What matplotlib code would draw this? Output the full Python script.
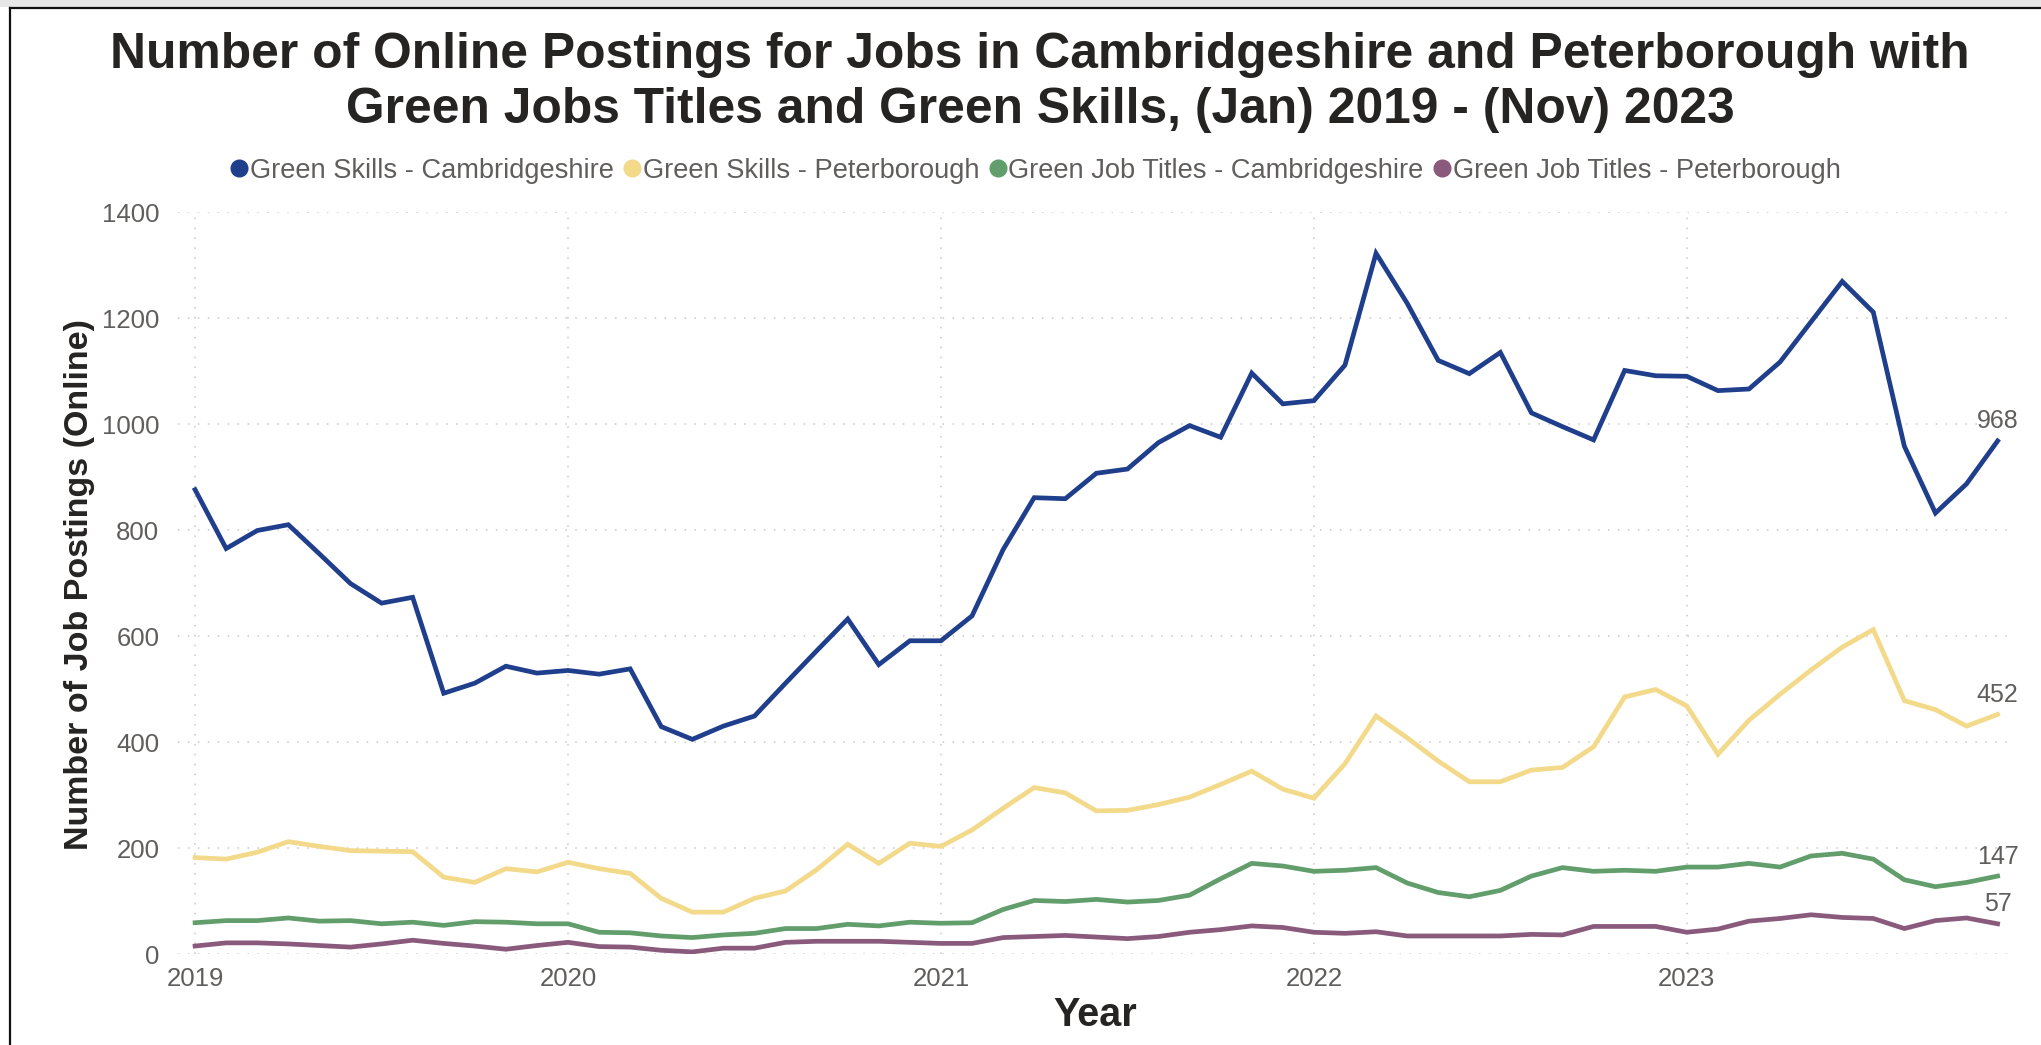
import matplotlib
matplotlib.use('Agg')
import matplotlib.pyplot as plt
from matplotlib.lines import Line2D
from matplotlib.patches import Rectangle

# monthly postings, Jan 2019 .. Nov 2023
years = ['2019', '2020', '2021', '2022', '2023']

skills_cambs = [876, 765, 799, 810, 755, 699, 662, 673, 492, 511, 543, 530,
                535, 528, 538, 429, 405, 430, 449, 511, 572, 632, 546, 591,
                591, 638, 763, 861, 859, 907, 915, 965, 997, 975, 1096, 1038,
                1044, 1111, 1322, 1228, 1120, 1095, 1135, 1021, 995, 970, 1101, 1091,
                1090, 1063, 1066, 1117, 1193, 1269, 1211, 958, 832, 887, 968]

skills_pboro = [182, 179, 192, 212, 203, 195, 194, 193, 145, 135, 161, 155,
                173, 161, 152, 105, 79, 79, 105, 119, 159, 207, 171, 209,
                203, 234, 275, 314, 304, 270, 271, 282, 296, 320, 345, 311,
                294, 359, 449, 408, 364, 325, 325, 347, 352, 391, 485, 499,
                468, 377, 441, 490, 536, 579, 612, 478, 461, 430, 452]

titles_cambs = [59, 63, 63, 68, 62, 63, 57, 60, 54, 61, 60, 57,
                57, 41, 40, 34, 31, 36, 39, 48, 48, 56, 53, 60,
                58, 59, 84, 101, 99, 103, 98, 101, 111, 142, 171, 166,
                156, 158, 163, 134, 116, 108, 120, 147, 163, 156, 158, 156,
                164, 164, 171, 164, 185, 190, 179, 140, 127, 135, 147]

titles_pboro = [15, 21, 21, 19, 16, 13, 19, 26, 20, 15, 9, 16,
                22, 14, 13, 7, 4, 11, 11, 22, 24, 24, 24, 22,
                20, 20, 31, 33, 35, 32, 29, 33, 41, 46, 53, 50,
                41, 39, 42, 34, 34, 34, 34, 37, 36, 52, 52, 52,
                41, 47, 62, 67, 74, 69, 67, 48, 63, 68, 57]

series = [
    ('Green Skills - Cambridgeshire', skills_cambs, '#1F3E8C'),
    ('Green Skills - Peterborough', skills_pboro, '#F3D98A'),
    ('Green Job Titles - Cambridgeshire', titles_cambs, '#629D6C'),
    ('Green Job Titles - Peterborough', titles_pboro, '#8A5A7C'),
]

plt.rcParams['font.family'] = ['Liberation Sans', 'DejaVu Sans']
grey = '#605E5C'
dark = '#252423'

W, H = 2041, 1045
fig = plt.figure(figsize=(W / 100, H / 100), dpi=100)

# screenshot frame: grey strip on top, thin black border top and left
fig.patches.append(Rectangle((0, 1 - 7 / H), 1, 7 / H, transform=fig.transFigure,
                             facecolor='#E6E6E6', edgecolor='none'))
fig.lines.append(Line2D([10 / W, 1], [1 - 8 / H, 1 - 8 / H], transform=fig.transFigure,
                        color='#111111', linewidth=1.6))
fig.lines.append(Line2D([10 / W, 10 / W], [0, 1 - 8 / H], transform=fig.transFigure,
                        color='#111111', linewidth=1.6))

ax = fig.add_axes([178 / W, 1 - 954 / H, (2015 - 178) / W, (954 - 212) / H])

months = list(range(len(skills_cambs)))
handles = []
for name, vals, col in series:
    ax.plot(months, vals, color=col, linewidth=3.4, solid_joinstyle='miter', zorder=3)
    handles.append(Line2D([], [], linestyle='none', marker='o', markersize=12,
                          markerfacecolor=col, markeredgecolor=col, label=name))
    ax.annotate(str(vals[-1]), (months[-1], vals[-1]), xytext=(0, 9),
                textcoords='offset points', ha='center', va='baseline',
                fontsize=18, color=grey)

ax.set_xlim(-0.55, 58.56)
ax.set_ylim(0, 1400)
ax.set_yticks(range(0, 1401, 200))
ax.set_xticks([0, 12, 24, 36, 48])
ax.set_xticklabels(years)
ax.tick_params(axis='both', length=0, labelsize=18.5, labelcolor=grey)
ax.tick_params(axis='y', pad=13.5)
ax.tick_params(axis='x', pad=9)
for s in ax.spines.values():
    s.set_visible(False)
ax.grid(True, color='#C8C8C8', linewidth=1.1, linestyle=(0, (1, 5.5)), zorder=0)
ax.set_axisbelow(True)

fig.text(80 / W, 1 - 584 / H, 'Number of Job Postings (Online)', rotation=90,
         ha='center', va='center', fontsize=24.5, fontweight='bold', color=dark)
fig.text(1095 / W, 1 - 1015 / H, 'Year', ha='center', va='center',
         fontsize=28.5, fontweight='bold', color=dark)

fig.text(1040 / W, 1 - 68 / H,
         'Number of Online Postings for Jobs in Cambridgeshire and Peterborough with',
         ha='center', va='baseline', fontsize=35.8, fontweight='bold', color=dark)
fig.text(1040 / W, 1 - 123 / H,
         'Green Jobs Titles and Green Skills, (Jan) 2019 - (Nov) 2023',
         ha='center', va='baseline', fontsize=35.8, fontweight='bold', color=dark)

fig.legend(handles=handles, loc='center', bbox_to_anchor=(1036 / W, 1 - 171 / H),
           ncol=4, frameon=False, fontsize=19.6, labelcolor=grey,
           handlelength=0.55, handletextpad=0.12, columnspacing=0.4, borderpad=0)

fig.savefig('out.png', dpi=100, facecolor='white')
